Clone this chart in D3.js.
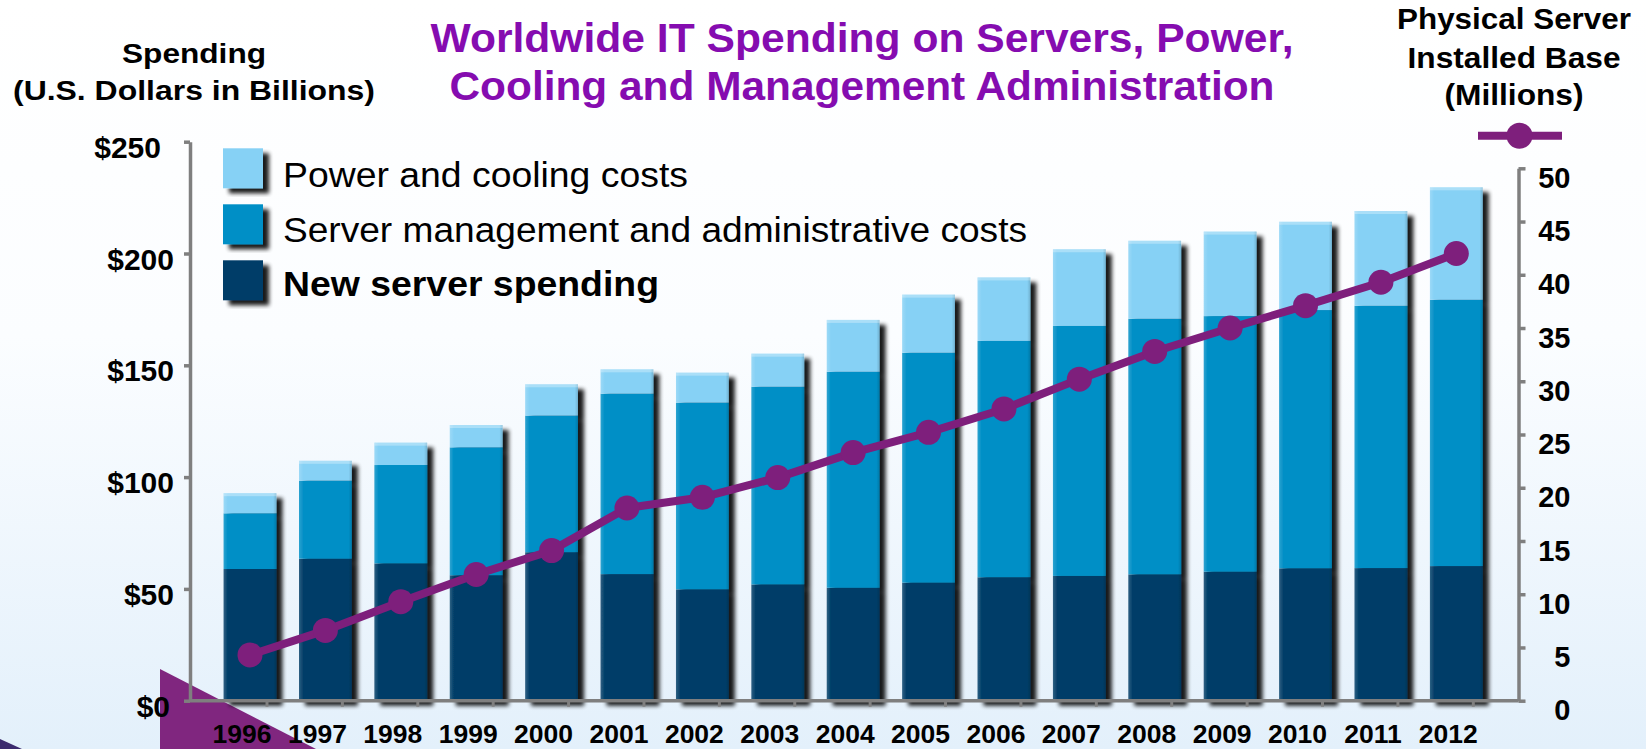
<!DOCTYPE html>
<html><head><meta charset="utf-8">
<script src="https://cdn.jsdelivr.net/npm/d3@7"></script>
<style>
html,body{margin:0;padding:0;overflow:hidden;background:#fff}
svg{display:block}
text{font-family:"Liberation Sans",Arial,Helvetica,sans-serif}
</style>
</head><body>
<svg id="chart" width="1646" height="749"></svg>
<script>
// ---------- data ----------
const years = ["1996","1997","1998","1999","2000","2001","2002","2003","2004","2005","2006","2007","2008","2009","2010","2011","2012"];
const newServerSpending = [58.9,63.5,61.4,56.1,66.4,56.6,49.8,52.0,50.5,52.8,55.2,55.8,56.5,57.7,59.2,59.3,60.2];
const mgmtAdminCosts    = [24.9,34.9,44.0,57.2,61.1,80.7,83.5,88.4,96.6,102.8,105.7,111.8,114.3,114.3,115.5,117.3,119.1];
const powerCoolingCosts = [9.0,8.9,10.0,10.0,14.0,10.9,13.4,14.8,23.2,26.0,28.4,34.3,34.9,37.8,39.5,42.4,50.3];
const installedBase     = [4.3,6.6,9.3,11.85,14.1,18.1,19.1,20.95,23.3,25.2,27.4,30.2,32.8,35.0,37.1,39.3,42.0];
const leftTicks  = [0,50,100,150,200,250];
const rightTicks = [0,5,10,15,20,25,30,35,40,45,50];
const seriesKeys   = ["newServer","mgmt","power"];
const seriesLabels = ["New server spending","Server management and administrative costs","Power and cooling costs"];
const seriesColors = ["#013E68","#008FC6","#86D1F5"];
const titleLines = ["Worldwide IT Spending on Servers, Power,","Cooling and Management Administration"];
const leftTitle  = ["Spending","(U.S. Dollars in Billions)"];
const rightTitle = ["Physical Server","Installed Base","(Millions)"];

// ---------- setup ----------
const W = 1646, H = 749;
const svg = d3.select("#chart");
const defs = svg.append("defs");

const bg = defs.append("linearGradient").attr("id","bg").attr("x1",0).attr("y1",0).attr("x2",0).attr("y2",1);
bg.append("stop").attr("offset","0%").attr("stop-color","#ffffff");
bg.append("stop").attr("offset","45%").attr("stop-color","#fbfdff");
bg.append("stop").attr("offset","100%").attr("stop-color","#e3f0fb");

const f = defs.append("filter").attr("id","shadow").attr("x","-30%").attr("y","-10%").attr("width","170%").attr("height","130%");
f.append("feGaussianBlur").attr("in","SourceAlpha").attr("stdDeviation",2.2).attr("result","b");
f.append("feOffset").attr("in","b").attr("dx",6).attr("dy",5).attr("result","o");
f.append("feComponentTransfer").attr("in","o").attr("result","s")
  .append("feFuncA").attr("type","linear").attr("slope",0.9);
const fm = f.append("feMerge");
fm.append("feMergeNode").attr("in","s");
fm.append("feMergeNode").attr("in","SourceGraphic");

const hl = defs.append("linearGradient").attr("id","hl").attr("x1",0).attr("y1",0).attr("x2",1).attr("y2",0);
hl.append("stop").attr("offset","0%").attr("stop-color","#fff").attr("stop-opacity",0.18);
hl.append("stop").attr("offset","8%").attr("stop-color","#fff").attr("stop-opacity",0.0);
hl.append("stop").attr("offset","94%").attr("stop-color","#000").attr("stop-opacity",0.0);
hl.append("stop").attr("offset","100%").attr("stop-color","#000").attr("stop-opacity",0.15);

svg.append("rect").attr("width",W).attr("height",H).attr("fill","url(#bg)");

// decorative slide shapes
svg.append("path").attr("d","M160,669L160,749L316,749Z").attr("fill","#80267F");
svg.append("path").attr("d","M0,739L0,749L22,749Z").attr("fill","#3b2a6e");

// ---------- scales ----------
const axisLeftX = 190, axisRightX = 1518.5, baseY = 700.7;
const x = d3.scaleBand().domain(years).range([212.3,1494]).paddingInner(0.3).paddingOuter(0.15);
const yL = d3.scaleLinear().domain([0,250]).range([baseY,141.7]);
const yR = d3.scaleLinear().domain([0,50]).range([baseY,168.3]);

const rows = years.map((y,i)=>({year:y,newServer:newServerSpending[i],mgmt:mgmtAdminCosts[i],power:powerCoolingCosts[i]}));
const stacked = d3.stack().keys(seriesKeys)(rows);

// ---------- bars ----------
const bw = x.bandwidth();
const barG = svg.append("g");
years.forEach((yr,i)=>{
  const g = barG.append("g").attr("filter","url(#shadow)");
  stacked.forEach((s,k)=>{
    g.append("rect").attr("x",x(yr)).attr("width",bw)
      .attr("y",yL(s[i][1])).attr("height",yL(s[i][0])-yL(s[i][1]))
      .attr("fill",seriesColors[k]);
  });
  const top = yL(stacked[2][i][1]);
  g.append("rect").attr("x",x(yr)).attr("width",bw).attr("y",top).attr("height",baseY-top).attr("fill","url(#hl)");
  g.append("rect").attr("x",x(yr)).attr("width",bw).attr("y",top).attr("height",3).attr("fill","#fff").attr("opacity",0.3);
});

// ---------- axes ----------
const axisColor = "#7f7f7f";
const gl = svg.append("g").attr("transform",`translate(${axisLeftX},0)`)
  .call(d3.axisLeft(yL).tickValues(leftTicks).tickSize(6).tickSizeOuter(0).tickFormat(d=>"$"+d));
gl.select(".domain").attr("stroke",axisColor).attr("stroke-width",3.5);
gl.selectAll(".tick line").attr("stroke",axisColor).attr("stroke-width",3.5);
gl.selectAll(".tick text").attr("font-size",30).attr("font-weight","bold").attr("fill","#000")
  .attr("x",d=> d===250 ? -29 : (d===0 ? -20 : -16)).attr("dy","0.35em").attr("transform","translate(0,5)");

const gr = svg.append("g").attr("transform",`translate(${axisRightX},0)`)
  .call(d3.axisRight(yR).tickValues(rightTicks).tickSize(7).tickSizeOuter(0));
gr.select(".domain").attr("stroke",axisColor).attr("stroke-width",3.5);
gr.selectAll(".tick line").attr("stroke",axisColor).attr("stroke-width",3.5);
gr.selectAll(".tick text").attr("font-size",29).attr("font-weight","bold").attr("fill","#000")
  .attr("x",52).attr("text-anchor","end").attr("dy","0.35em").attr("transform","translate(0,9)");

// baseline
svg.append("line").attr("x1",axisLeftX).attr("x2",axisRightX).attr("y1",baseY).attr("y2",baseY)
  .attr("stroke",axisColor).attr("stroke-width",3.5);

const gb = svg.append("g").attr("transform",`translate(0,${baseY})`)
  .call(d3.axisBottom(x).tickSize(0).tickSizeOuter(0));
gb.select(".domain").remove();
gb.selectAll(".tick line").remove();
gb.selectAll(".tick").append("line").attr("x1",17).attr("x2",17).attr("y1",0).attr("y2",6)
  .attr("stroke",axisColor).attr("stroke-width",3);
gb.selectAll(".tick text").attr("font-size",26.5).attr("font-weight","bold").attr("fill","#000")
  .attr("y",42.5).attr("dy",0).attr("x",-8);

// ---------- line ----------
const lineColor = "#7E1F7C";
const pts = years.map((yr,i)=>[x(yr)+bw/2, yR(installedBase[i])]);
svg.append("path").attr("d",d3.line()(pts)).attr("fill","none").attr("stroke",lineColor)
  .attr("stroke-width",8).attr("stroke-linejoin","round");
svg.append("g").selectAll("circle").data(pts).join("circle")
  .attr("cx",d=>d[0]).attr("cy",d=>d[1]).attr("r",12.5).attr("fill",lineColor);

// ---------- legend ----------
const legendOrder = [2,1,0];
const legendWidths = [405,744,376];
legendOrder.forEach((k,j)=>{
  const sy = 148.3 + j*56;
  const g = svg.append("g");
  g.append("g").attr("filter","url(#shadow)").append("rect")
    .attr("x",223).attr("y",sy).attr("width",40).attr("height",40).attr("fill",seriesColors[k]);
  g.append("text").attr("x",283).attr("y",187 + j*54.5).attr("font-size",35.5)
    .attr("font-weight",k===0?"bold":"normal").attr("fill","#000")
    .attr("textLength",legendWidths[j]).attr("lengthAdjust","spacingAndGlyphs")
    .text(seriesLabels[k]);
});

// legend for line (top right)
svg.append("line").attr("x1",1478).attr("x2",1562).attr("y1",135.7).attr("y2",135.7)
  .attr("stroke",lineColor).attr("stroke-width",8);
svg.append("circle").attr("cx",1519.5).attr("cy",135.7).attr("r",13).attr("fill",lineColor);

// ---------- titles ----------
const tWidths = [863,825];
titleLines.forEach((t,i)=>{
  svg.append("text").attr("x",862).attr("y",52+i*48).attr("text-anchor","middle")
    .attr("font-size",40).attr("font-weight","bold").attr("fill","#850CB0")
    .attr("textLength",tWidths[i]).attr("lengthAdjust","spacingAndGlyphs").text(t);
});
const lWidths = [144,362];
leftTitle.forEach((t,i)=>{
  svg.append("text").attr("x",194).attr("y",63+i*37).attr("text-anchor","middle")
    .attr("font-size",28.5).attr("font-weight","bold").attr("fill","#000")
    .attr("textLength",lWidths[i]).attr("lengthAdjust","spacingAndGlyphs").text(t);
});
const rWidths = [234,213,139];
const rBase = [28.5,68.3,105];
rightTitle.forEach((t,i)=>{
  svg.append("text").attr("x",1514).attr("y",rBase[i]).attr("text-anchor","middle")
    .attr("font-size",29.5).attr("font-weight","bold").attr("fill","#000")
    .attr("textLength",rWidths[i]).attr("lengthAdjust","spacingAndGlyphs").text(t);
});
</script>
</body></html>
